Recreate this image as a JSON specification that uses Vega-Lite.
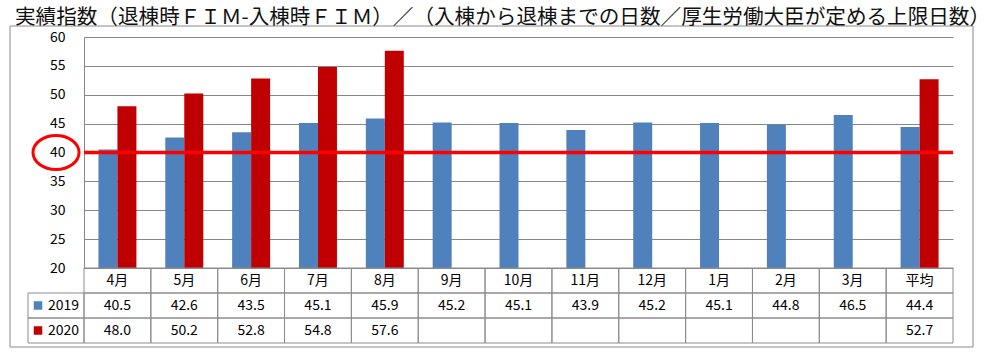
{
  "$schema": "https://vega.github.io/schema/vega-lite/v6.json",
  "width": 869,
  "height": 306,
  "autosize": {"type": "none"},
  "padding": {"left": 84, "top": 37, "right": 47, "bottom": 17},
  "background": "white",
  "title": {
    "text": "実績指数（退棟時ＦＩＭ-入棟時ＦＩＭ）／（入棟から退棟までの日数／厚生労働大臣が定める上限日数）",
    "anchor": "start",
    "frame": "group",
    "dx": -69,
    "offset": -3,
    "fontSize": 20.6,
    "font": "Noto Sans CJK JP",
    "fontWeight": "normal",
    "color": "#111111"
  },
  "config": {
    "view": {"stroke": null},
    "font": "Noto Sans CJK JP",
    "text": {"font": "Noto Sans CJK JP", "fontSize": 14, "color": "#000000"}
  },
  "datasets": {
    "perf": [
      {"month": "4月", "year": "2019", "value": 40.5},
      {"month": "5月", "year": "2019", "value": 42.6},
      {"month": "6月", "year": "2019", "value": 43.5},
      {"month": "7月", "year": "2019", "value": 45.1},
      {"month": "8月", "year": "2019", "value": 45.9},
      {"month": "9月", "year": "2019", "value": 45.2},
      {"month": "10月", "year": "2019", "value": 45.1},
      {"month": "11月", "year": "2019", "value": 43.9},
      {"month": "12月", "year": "2019", "value": 45.2},
      {"month": "1月", "year": "2019", "value": 45.1},
      {"month": "2月", "year": "2019", "value": 44.8},
      {"month": "3月", "year": "2019", "value": 46.5},
      {"month": "平均", "year": "2019", "value": 44.4},
      {"month": "4月", "year": "2020", "value": 48.0},
      {"month": "5月", "year": "2020", "value": 50.2},
      {"month": "6月", "year": "2020", "value": 52.8},
      {"month": "7月", "year": "2020", "value": 54.8},
      {"month": "8月", "year": "2020", "value": 57.6},
      {"month": "9月", "year": "2020", "value": null},
      {"month": "10月", "year": "2020", "value": null},
      {"month": "11月", "year": "2020", "value": null},
      {"month": "12月", "year": "2020", "value": null},
      {"month": "1月", "year": "2020", "value": null},
      {"month": "2月", "year": "2020", "value": null},
      {"month": "3月", "year": "2020", "value": null},
      {"month": "平均", "year": "2020", "value": 52.7}
    ],
    "target": [{"label": "上限", "value": 40}],
    "frame": [{"part": "chart area"}]
  },
  "data": {"name": "perf"},
  "resolve": {
    "scale": {"x": "independent", "y": "independent", "xOffset": "independent", "color": "independent"},
    "axis": {"x": "independent", "y": "independent"}
  },
  "layer": [
    {
      "data": {"name": "frame"},
      "mark": {"type": "rect", "fill": "transparent", "stroke": "#8a8a8a", "strokeWidth": 1},
      "encoding": {
        "x": {"datum": 0, "type": "quantitative", "scale": {"domain": [0, 1], "range": [-74, 889], "nice": false, "zero": false}, "axis": null},
        "x2": {"datum": 1},
        "y": {"datum": 0, "type": "quantitative", "scale": {"domain": [0, 1], "range": [-11, 310], "nice": false, "zero": false}, "axis": null},
        "y2": {"datum": 1}
      }
    },
    {
      "transform": [{"filter": "isValid(datum.value)"}],
      "mark": {"type": "bar"},
      "encoding": {
        "x": {
          "field": "month", "type": "nominal", "sort": null,
          "scale": {"domain": ["4月","5月","6月","7月","8月","9月","10月","11月","12月","1月","2月","3月","平均"], "paddingInner": 0, "paddingOuter": 0},
          "axis": null
        },
        "xOffset": {
          "field": "year", "type": "nominal",
          "scale": {"domain": ["2019", "2020"], "paddingInner": 0, "paddingOuter": 0.76}
        },
        "y": {
          "field": "value", "type": "quantitative",
          "scale": {"domain": [20, 60], "range": [231, 0], "nice": false, "zero": false},
          "axis": {
            "values": [20, 25, 30, 35, 40, 45, 50, 55, 60],
            "format": "d",
            "title": null,
            "grid": true,
            "gridColor": "#878787",
            "gridWidth": 1,
            "domain": true,
            "domainColor": "#878787",
            "ticks": false,
            "labelPadding": 19,
            "labelFontSize": 14,
            "labelFont": "Noto Sans CJK JP",
            "labelColor": "#000000"
          }
        },
        "y2": {"datum": 20},
        "color": {
          "field": "year", "type": "nominal",
          "scale": {"domain": ["2019", "2020"], "range": ["#4F81BD", "#C00000"]},
          "legend": null
        }
      }
    },
    {
      "data": {"name": "target"},
      "mark": {"type": "rule", "color": "#FF0000", "strokeWidth": 3.5},
      "encoding": {
        "y": {"field": "value", "type": "quantitative", "scale": {"domain": [20, 60], "range": [231, 0], "nice": false, "zero": false}, "axis": null}
      }
    },
    {
      "data": {"name": "target"},
      "mark": {
        "type": "point",
        "shape": "M-1,0C-1,-0.408,-0.552,-0.739,0,-0.739C0.552,-0.739,1,-0.408,1,0C1,0.408,0.552,0.739,0,0.739C-0.552,0.739,-1,0.408,-1,0Z",
        "size": 2116,
        "filled": false,
        "stroke": "#FF0000",
        "strokeWidth": 3,
        "opacity": 1
      },
      "encoding": {
        "x": {"datum": "label", "type": "nominal", "scale": {"type": "band", "domain": ["label"], "range": [-56, 0], "paddingInner": 0, "paddingOuter": 0}, "axis": null},
        "y": {"field": "value", "type": "quantitative", "scale": {"domain": [20, 60], "range": [231, 0], "nice": false, "zero": false}, "axis": null}
      }
    },
    {
      "mark": {"type": "rect", "fill": "transparent", "stroke": "#8c8c8c", "strokeWidth": 1},
      "encoding": {
        "x": {
          "field": "month", "type": "nominal", "sort": null,
          "scale": {"domain": ["4月","5月","6月","7月","8月","9月","10月","11月","12月","1月","2月","3月","平均"], "paddingInner": 0, "paddingOuter": 0},
          "axis": null
        },
        "y": {
          "field": "year", "type": "nominal",
          "scale": {"type": "band", "domain": ["hdr", "2019", "2020"], "range": [231, 306], "paddingInner": 0, "paddingOuter": 0},
          "axis": null
        }
      }
    },
    {
      "transform": [{"filter": "datum.year == '2019'"}],
      "mark": {"type": "rect", "fill": "transparent", "stroke": "#8c8c8c", "strokeWidth": 1},
      "encoding": {
        "x": {
          "field": "month", "type": "nominal", "sort": null,
          "scale": {"domain": ["4月","5月","6月","7月","8月","9月","10月","11月","12月","1月","2月","3月","平均"], "paddingInner": 0, "paddingOuter": 0},
          "axis": null
        },
        "y": {
          "datum": "hdr", "type": "nominal",
          "scale": {"type": "band", "domain": ["hdr", "2019", "2020"], "range": [231, 306], "paddingInner": 0, "paddingOuter": 0},
          "axis": null
        }
      }
    },
    {
      "transform": [{"filter": "datum.year == '2019'"}],
      "mark": {"type": "text", "baseline": "middle", "align": "center", "fontSize": 14},
      "encoding": {
        "x": {
          "field": "month", "type": "nominal", "sort": null,
          "scale": {"domain": ["4月","5月","6月","7月","8月","9月","10月","11月","12月","1月","2月","3月","平均"], "paddingInner": 0, "paddingOuter": 0},
          "axis": null
        },
        "y": {
          "datum": "hdr", "type": "nominal",
          "scale": {"type": "band", "domain": ["hdr", "2019", "2020"], "range": [231, 306], "paddingInner": 0, "paddingOuter": 0},
          "axis": null
        },
        "text": {"field": "month", "type": "nominal"}
      }
    },
    {
      "transform": [{"filter": "isValid(datum.value)"}],
      "mark": {"type": "text", "baseline": "middle", "align": "center", "fontSize": 14},
      "encoding": {
        "x": {
          "field": "month", "type": "nominal", "sort": null,
          "scale": {"domain": ["4月","5月","6月","7月","8月","9月","10月","11月","12月","1月","2月","3月","平均"], "paddingInner": 0, "paddingOuter": 0},
          "axis": null
        },
        "y": {
          "field": "year", "type": "nominal",
          "scale": {"type": "band", "domain": ["hdr", "2019", "2020"], "range": [231, 306], "paddingInner": 0, "paddingOuter": 0},
          "axis": null
        },
        "text": {"field": "value", "type": "quantitative", "format": ".1f"}
      }
    },
    {
      "transform": [{"filter": "datum.month == '4月'"}],
      "mark": {"type": "rect", "fill": "transparent", "stroke": "#8c8c8c", "strokeWidth": 1},
      "encoding": {
        "x": {"datum": "label", "type": "nominal", "scale": {"type": "band", "domain": ["label"], "range": [-56, 0], "paddingInner": 0, "paddingOuter": 0}, "axis": null},
        "y": {
          "field": "year", "type": "nominal",
          "scale": {"type": "band", "domain": ["hdr", "2019", "2020"], "range": [231, 306], "paddingInner": 0, "paddingOuter": 0},
          "axis": null
        }
      }
    },
    {
      "transform": [{"filter": "datum.month == '4月'"}],
      "mark": {"type": "text", "baseline": "middle", "align": "center", "fontSize": 14, "dx": 7.5},
      "encoding": {
        "x": {"datum": "label", "type": "nominal", "scale": {"type": "band", "domain": ["label"], "range": [-56, 0], "paddingInner": 0, "paddingOuter": 0}, "axis": null},
        "y": {
          "field": "year", "type": "nominal",
          "scale": {"type": "band", "domain": ["hdr", "2019", "2020"], "range": [231, 306], "paddingInner": 0, "paddingOuter": 0},
          "axis": null
        },
        "text": {"field": "year", "type": "nominal"}
      }
    },
    {
      "transform": [{"filter": "datum.month == '4月'"}],
      "mark": {"type": "point", "shape": "square", "size": 72, "filled": true, "opacity": 1},
      "encoding": {
        "x": {"datum": "key", "type": "nominal", "scale": {"type": "band", "domain": ["key"], "range": [-56, -36], "paddingInner": 0, "paddingOuter": 0}, "axis": null},
        "y": {
          "field": "year", "type": "nominal",
          "scale": {"type": "band", "domain": ["hdr", "2019", "2020"], "range": [231, 306], "paddingInner": 0, "paddingOuter": 0},
          "axis": null
        },
        "color": {
          "field": "year", "type": "nominal",
          "scale": {"domain": ["2019", "2020"], "range": ["#4F81BD", "#C00000"]},
          "legend": null
        }
      }
    }
  ]
}
